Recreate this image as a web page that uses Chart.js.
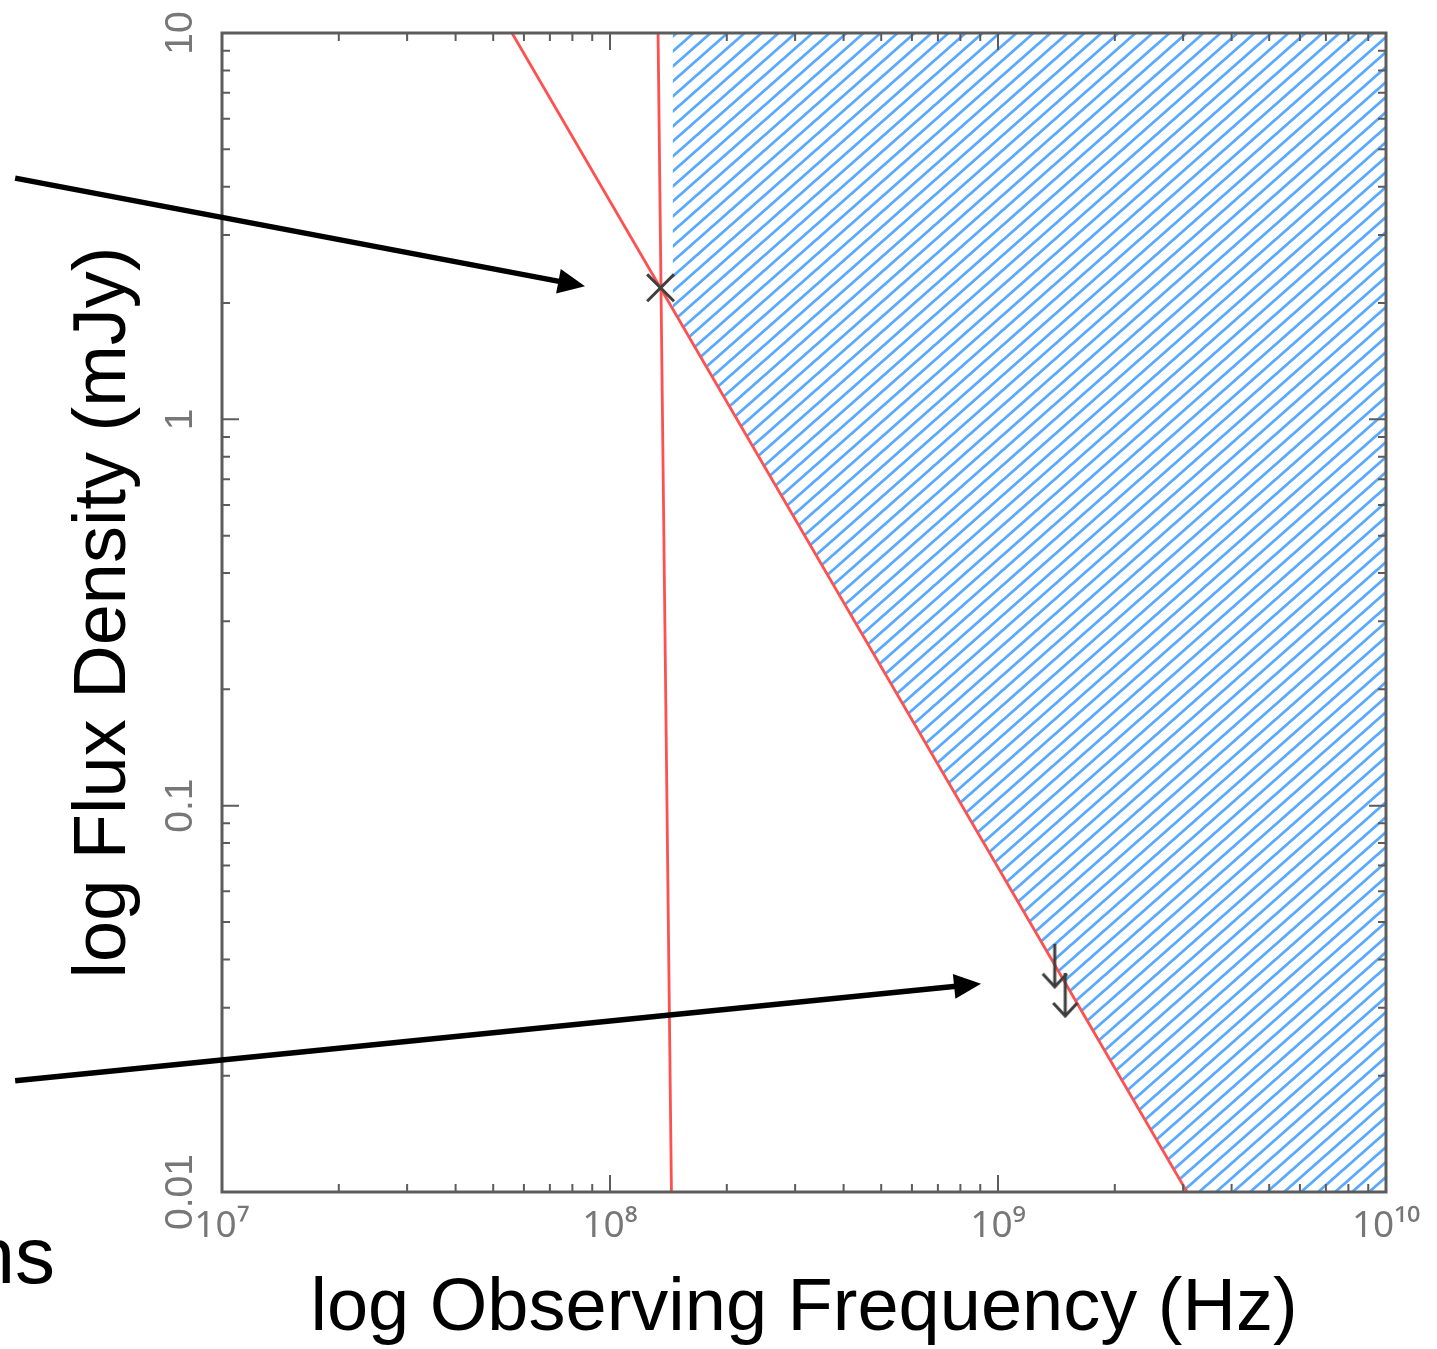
<!DOCTYPE html>
<html>
<head>
<meta charset="utf-8">
<script src="https://cdn.jsdelivr.net/npm/chart.js@4.4.1/dist/chart.umd.min.js"></script>
<style>
  html, body { margin: 0; padding: 0; background: #fff; }
  #wrap { width: 1437px; height: 1349px; position: relative; }
</style>
</head>
<body>
<div id="wrap"><canvas id="flux-chart"></canvas></div>
<script>
/**
 * Data
 */
// Major ticks and their labels
const freqTicks = [1e7, 1e8, 1e9, 1e10];
const freqTickLabels = ["10⁷", "10⁸", "10⁹", "10¹⁰"];
const fluxTicks = [0.01, 0.1, 1, 10];
const fluxTickLabels = ["0.01", "0.1", "1", "10"];
const minorSteps = [2, 3, 4, 5, 6, 7, 8, 9];

// Red limit lines (frequency in Hz, flux density in mJy)
const slopeLineFreq = [5.59e7, 3.07e9];
const slopeLineFlux = [10, 0.01];
const cutoffLineFreq = [1.33e8, 1.44e8];
const cutoffLineFlux = [10, 0.01];

// Hatched region: lower edge, filled up to the top of the plot
const regionFreq = [1.45e8, 3.07e9, 1e10];
const regionFlux = [1.93, 0.01, 0.01];

// Detection (cross) and upper limits (arrows)
const detectionFreq = [1.35e8];
const detectionFlux = [2.19];
const limitFreq = [1.4e9, 1.49e9];
const limitFlux = [0.0439, 0.0369];

// Callout arrows, tail -> head
const calloutTailFreq = [2.93e6, 2.93e6];
const calloutTailFlux = [4.21, 0.0194];
const calloutHeadFreq = [8.62e7, 9.04e8];
const calloutHeadFlux = [2.21, 0.0346];

/**
 * Helpers
 */
const FONT = "'Liberation Sans', Arial, Helvetica, sans-serif";
const RED = "#ff5050";

const toPoints = (xs, ys) => xs.map((x, i) => ({ x, y: ys[i] }));

// major + minor (2..9) ticks for every decade
const logTicks = (majors) => {
  const out = [];
  majors.forEach((v, i) => {
    out.push({ value: v, major: true });
    if (i < majors.length - 1) {
      minorSteps.forEach((m) => out.push({ value: v * m, major: false }));
    }
  });
  return out;
};

// diagonal hatch, one stripe per tile
const hatchPattern = () => {
  const w = 17;
  const h = 15;
  const c = document.createElement("canvas");
  c.width = w;
  c.height = h;
  const g = c.getContext("2d");
  g.strokeStyle = "#58a9ff";
  g.lineWidth = 2.8;
  g.lineCap = "square";
  const stripe = (ox, oy) => {
    g.moveTo(ox - w * 0.3, oy + h * 1.3);
    g.lineTo(ox + w * 1.3, oy - h * 0.3);
  };
  g.beginPath();
  stripe(0, 0);
  stripe(-w, 0);
  stripe(w, 0);
  g.stroke();
  return g.createPattern(c, "repeat");
};

// down arrow used as point style for the upper limits
const limitArrow = () => {
  const c = document.createElement("canvas");
  c.width = 30;
  c.height = 92;
  const g = c.getContext("2d");
  g.strokeStyle = "#3c3c3c";
  g.lineWidth = 3;
  g.beginPath();
  g.moveTo(15, 46);
  g.lineTo(15, 88);
  g.stroke();
  g.beginPath();
  g.moveTo(3, 76);
  g.lineTo(15, 89);
  g.lineTo(27, 76);
  g.stroke();
  return c;
};

/**
 * Plugins
 */
// box frame with inward ticks on all four sides
const frameTicks = {
  id: "frameTicks",
  afterDatasetsDraw(chart) {
    const { ctx, chartArea: a, scales } = chart;
    ctx.save();
    ctx.strokeStyle = "#5c5c5c";
    ctx.lineWidth = 2;
    ctx.beginPath();
    scales.x.ticks.forEach((t) => {
      const len = t.major ? 17 : 8;
      const px = scales.x.getPixelForValue(t.value);
      ctx.moveTo(px, a.bottom);
      ctx.lineTo(px, a.bottom - len);
      ctx.moveTo(px, a.top);
      ctx.lineTo(px, a.top + len);
    });
    scales.y.ticks.forEach((t) => {
      const len = t.major ? 17 : 8;
      const py = scales.y.getPixelForValue(t.value);
      ctx.moveTo(a.left, py);
      ctx.lineTo(a.left + len, py);
      ctx.moveTo(a.right, py);
      ctx.lineTo(a.right - len, py);
    });
    ctx.stroke();
    ctx.lineWidth = 3;
    ctx.strokeRect(a.left, a.top, a.right - a.left, a.bottom - a.top);
    ctx.restore();
  },
};

// black callout arrows and the cropped caption text
const callouts = {
  id: "callouts",
  afterDraw(chart) {
    const { ctx, scales: { x, y } } = chart;
    ctx.save();
    ctx.fillStyle = "#000";
    ctx.strokeStyle = "#000";
    ctx.lineWidth = 5.5;
    calloutTailFreq.forEach((f, i) => {
      const x0 = x.getPixelForValue(f);
      const y0 = y.getPixelForValue(calloutTailFlux[i]);
      const x1 = x.getPixelForValue(calloutHeadFreq[i]);
      const y1 = y.getPixelForValue(calloutHeadFlux[i]);
      const ang = Math.atan2(y1 - y0, x1 - x0);
      const head = 27;
      const half = 12.5;
      const bx = x1 - head * Math.cos(ang);
      const by = y1 - head * Math.sin(ang);
      ctx.beginPath();
      ctx.moveTo(x0, y0);
      ctx.lineTo(bx + 2 * Math.cos(ang), by + 2 * Math.sin(ang));
      ctx.stroke();
      ctx.beginPath();
      ctx.moveTo(x1, y1);
      ctx.lineTo(bx + half * Math.sin(ang), by - half * Math.cos(ang));
      ctx.lineTo(bx - half * Math.sin(ang), by + half * Math.cos(ang));
      ctx.closePath();
      ctx.fill();
    });
    ctx.font = "80px " + FONT;
    ctx.textAlign = "right";
    ctx.textBaseline = "alphabetic";
    ctx.fillText("ns", 55, 1283);
    ctx.restore();
  },
};

/**
 * Chart
 */
Chart.defaults.font.family = FONT;

new Chart(document.getElementById("flux-chart"), {
  type: "line",
  data: {
    datasets: [
      {
        label: "Detection",
        data: toPoints(detectionFreq, detectionFlux),
        showLine: false,
        pointStyle: "crossRot",
        pointRadius: 19,
        pointBorderWidth: 3,
        pointBorderColor: "#404040",
        pointBackgroundColor: "transparent",
      },
      {
        label: "Upper limits",
        data: toPoints(limitFreq, limitFlux),
        showLine: false,
        pointStyle: limitArrow(),
        pointRadius: 4,
      },
      {
        label: "Spectral limit",
        data: toPoints(slopeLineFreq, slopeLineFlux),
        borderColor: RED,
        borderWidth: 2.8,
        pointRadius: 0,
        tension: 0,
      },
      {
        label: "Cutoff",
        data: toPoints(cutoffLineFreq, cutoffLineFlux),
        borderColor: RED,
        borderWidth: 2.8,
        pointRadius: 0,
        tension: 0,
      },
      {
        label: "Allowed region",
        data: toPoints(regionFreq, regionFlux),
        borderWidth: 0,
        borderColor: "transparent",
        backgroundColor: hatchPattern(),
        fill: "end",
        pointRadius: 0,
        tension: 0,
      },
    ],
  },
  options: {
    responsive: true,
    maintainAspectRatio: false,
    animation: false,
    events: [],
    layout: { padding: { top: 33, right: 51, left: 0, bottom: 0 } },
    plugins: {
      legend: { display: false },
      tooltip: { enabled: false },
    },
    scales: {
      x: {
        type: "logarithmic",
        min: 1e7,
        max: 1e10,
        afterBuildTicks: (scale) => {
          scale.ticks = logTicks(freqTicks);
        },
        afterFit: (scale) => {
          scale.height = 157;
        },
        grid: { display: false },
        border: { display: false },
        ticks: {
          autoSkip: false,
          maxRotation: 0,
          padding: 4,
          color: "#777",
          font: { size: 37, family: "'Noto Sans', " + FONT },
          callback: (value) => {
            const i = freqTicks.indexOf(value);
            return i >= 0 ? freqTickLabels[i] : "";
          },
        },
        title: {
          display: true,
          text: "log Observing Frequency (Hz)",
          color: "#000",
          font: { size: 74, lineHeight: 1 },
          padding: { top: 0, bottom: 2 },
        },
      },
      y: {
        type: "logarithmic",
        min: 0.01,
        max: 10,
        afterBuildTicks: (scale) => {
          scale.ticks = logTicks(fluxTicks);
        },
        afterFit: (scale) => {
          scale.width = 222;
        },
        grid: { display: false },
        border: { display: false },
        ticks: {
          autoSkip: false,
          minRotation: 90,
          maxRotation: 90,
          crossAlign: "center",
          padding: -5,
          color: "#777",
          font: { size: 39 },
          callback: (value) => {
            const i = fluxTicks.indexOf(value);
            return i >= 0 ? fluxTickLabels[i] : "";
          },
        },
        title: {
          display: true,
          text: "log Flux Density (mJy)",
          color: "#000",
          font: { size: 74, lineHeight: 1 },
          padding: { top: 68, bottom: 0 },
        },
      },
    },
  },
  plugins: [frameTicks, callouts],
});
</script>
</body>
</html>
